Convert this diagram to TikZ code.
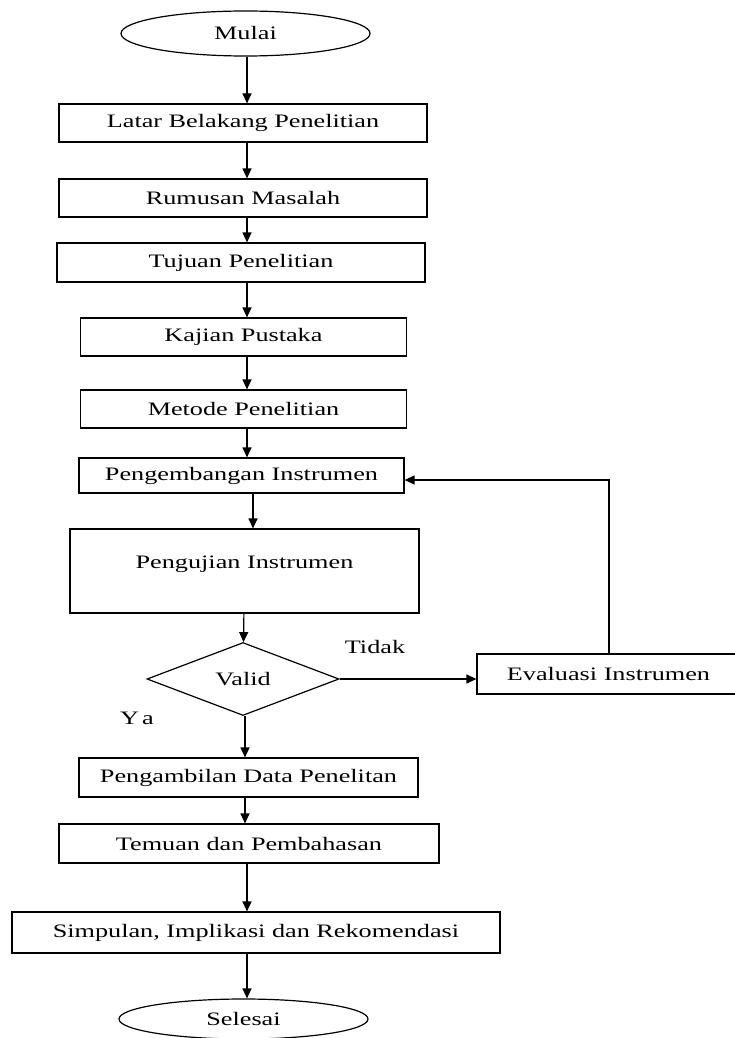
\documentclass[tikz,border=0pt]{standalone}
\usepackage{fontspec}
\setmainfont{Liberation Serif}[FakeStretch=1.38]
\usetikzlibrary{shapes.geometric,arrows.meta}

\begin{document}
\begin{tikzpicture}[x=0.5pt,y=-0.5pt,line width=0.6pt,
        font=\fontsize{9.5pt}{11pt}\selectfont,
        box/.style={draw,rectangle,inner sep=0pt},
        term/.style={draw,ellipse,inner sep=0pt,minimum width=124.5pt},
        cek/.style={draw,diamond,inner sep=0pt,aspect=2.6},
        arr/.style={-{Triangle[length=5pt,width=4.5pt]}}]
        \useasboundingbox (0,0) rectangle (734,1038);
        % urutan utama
        \draw (245.5,33.5) node[term,minimum height=22.5pt] (mulai) {Mulai};
        \draw (243,123)   node[box,minimum width=184pt,minimum height=19pt] (latar) {Latar Belakang Penelitian};
        \draw (243,198)   node[box,minimum width=184pt,minimum height=19pt] (rumusan) {Rumusan Masalah};
        \draw (241,262.5) node[box,minimum width=184pt,minimum height=19.5pt] (tujuan) {Tujuan Penelitian};
        \draw (243.5,337) node[box,minimum width=163pt,minimum height=19pt] (kajian) {Kajian Pustaka};
        \draw (243.5,409) node[box,minimum width=163pt,minimum height=19pt] (metode) {Metode Penelitian};
        \draw (241.5,475.5) node[box,minimum width=162.5pt,minimum height=17.5pt] (pengembangan) {Pengembangan Instrumen};
        \draw (244.5,571) node[box,minimum width=174.5pt,minimum height=42pt,text depth=8.5pt] (pengujian) {Pengujian Instrumen};
        \draw (243,679)   node[cek,minimum width=96pt,minimum height=36.5pt] (valid) {Valid};
        \draw (608.5,674) node[box,minimum width=131.5pt,minimum height=20pt] (evaluasi) {Evaluasi Instrumen};
        \draw (248.5,777.5) node[box,minimum width=169.5pt,minimum height=19.5pt] (pengambilan) {Pengambilan Data Penelitan};
        \draw (249,843.5) node[box,minimum width=190pt,minimum height=19.5pt] (temuan) {Temuan dan Pembahasan};
        \draw (256,932.5) node[box,minimum width=244pt,minimum height=20.5pt] (simpulan) {Simpulan, Implikasi dan Rekomendasi};
        \draw (243.5,1019) node[term,minimum height=20pt] (selesai) {Selesai};
        \node (tidak) at (375,647) {Tidak};
        \node (ya) at (137,718) {Y\hspace{1.5pt}a};
        \coordinate (atas) at (247,0);
        \coordinate (tengah) at (253,0);
        \coordinate (bawah) at (245,0);
        \coordinate (balik) at (609,480);
        % panah
        \draw[arr] (mulai.south -| atas) -- (latar.north -| atas);
        \draw[arr] (latar.south -| atas) -- (rumusan.north -| atas);
        \draw[arr] (rumusan.south -| atas) -- (tujuan.north -| atas);
        \draw[arr] (tujuan.south -| atas) -- (kajian.north -| atas);
        \draw[arr] (kajian.south -| atas) -- (metode.north -| atas);
        \draw[arr] (metode.south -| atas) -- (pengembangan.north -| atas);
        \draw[arr] (pengembangan.south -| tengah) -- (pengujian.north -| tengah);
        \draw[arr] (pengujian) -- (valid);
        \draw[arr] (valid.south -| bawah) -- (pengambilan.north -| bawah);
        \draw[arr] (pengambilan.south -| bawah) -- (temuan.north -| bawah);
        \draw[arr] (temuan.south -| atas) -- (simpulan.north -| atas);
        \draw[arr] (simpulan.south -| atas) -- (selesai.north -| atas);
        \draw[arr] (valid.east) -- (valid.east -| evaluasi.west);
        \draw[arr] (evaluasi.north -| balik) -- (balik) -- (pengembangan.east |- balik);
\end{tikzpicture}
\end{document}
